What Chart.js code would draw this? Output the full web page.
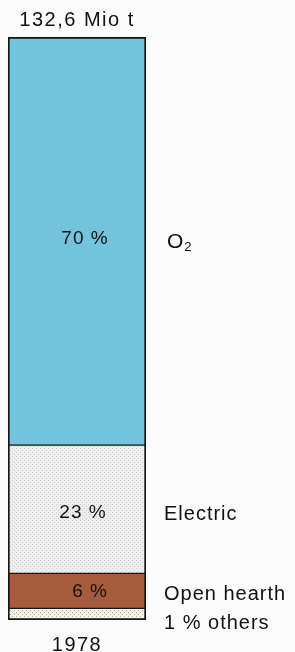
<!DOCTYPE html>
<html>
<head>
<meta charset="utf-8">
<script src="https://cdn.jsdelivr.net/npm/chart.js@4"></script>
<style>
  html, body { margin: 0; padding: 0; background: #fbfbfb; }
  canvas { display: block; }
</style>
</head>
<body>
<canvas id="c" width="295" height="652"></canvas>
<script>
// ---- data (top-to-bottom order as seen in the picture) ----
const categories = ['1978'];
const processNames = ['O2', 'Electric', 'Open hearth', 'others'];
const shares = [70, 22, 6, 2];          // band heights as drawn in the picture
const shareLabels = ['70 %', '23 %', '6 %', ''];
const sideLabels = ['O2', 'Electric', 'Open hearth', '1 % others'];
const totalLabel = '132,6 Mio t';

// ---- styling ----
function dotPattern(bg, dot) {
  const c = document.createElement('canvas');
  c.width = 4; c.height = 4;
  const x = c.getContext('2d');
  x.fillStyle = bg; x.fillRect(0, 0, 4, 4);
  x.fillStyle = dot;
  x.fillRect(0, 0, 1, 1); x.fillRect(2, 2, 1, 1);
  return x.createPattern(c, 'repeat');
}
const ctx0 = document.getElementById('c').getContext('2d');
const fills = [
  '#72c3dc',
  dotPattern('#eeeeee', '#c8c8c8'),
  '#a65b3d',
  dotPattern('#f3f1e8', '#b9b4a4')
];
const borders = [
  {top: 2, bottom: 1, left: 2, right: 2},
  {top: 1, bottom: 1, left: 2, right: 2},
  {top: 1, bottom: 1, left: 2, right: 2},
  {top: 1, bottom: 2, left: 2, right: 2}
];
const innerDx = [8, 6, 13, 0];
const innerDy = [-2, 4, 1, 0];
const sideX = [167, 164, 164, 164];
const sideDy = [1, 5, 4, 9];

const FONT = 'Liberation Sans, Arial, Helvetica, sans-serif';
const TEXT = '#111111';

// build datasets bottom-first for stacking
const datasets = processNames.map((name, i) => ({
  label: name,
  data: [shares[i]],
  backgroundColor: fills[i],
  borderColor: '#151515',
  borderWidth: borders[i],
  borderSkipped: false,
  barPercentage: 1,
  categoryPercentage: 1,
  _idx: i
})).reverse();

const labelPlugin = {
  id: 'labels',
  beforeDraw(chart) {
    chart.ctx.letterSpacing = '1.5px';
  },
  afterDatasetsDraw(chart) {
    const ctx = chart.ctx;
    ctx.save();
    ctx.fillStyle = TEXT;
    ctx.textBaseline = 'middle';
    chart.data.datasets.forEach((ds, di) => {
      const i = ds._idx;
      const el = chart.getDatasetMeta(di).data[0];
      const cy = (el.y + el.base) / 2;
      // inner share label
      if (shareLabels[i]) {
        ctx.font = '19px ' + FONT;
        ctx.letterSpacing = '1px';
        ctx.textAlign = 'center';
        ctx.fillText(shareLabels[i], el.x + innerDx[i], cy + innerDy[i]);
      }
      // side label
      ctx.textAlign = 'left';
      ctx.letterSpacing = '1px';
      const y = cy + sideDy[i];
      if (sideLabels[i] === 'O2') {
        ctx.font = '21px ' + FONT;
        ctx.fillText('O', sideX[i], y);
        const w = ctx.measureText('O').width;
        ctx.font = '13px ' + FONT;
        ctx.fillText('2', sideX[i] + w, y + 5);
      } else {
        ctx.font = '20px ' + FONT;
        ctx.fillText(sideLabels[i], sideX[i], y);
      }
    });
    ctx.restore();
    ctx.letterSpacing = '1.5px';
  }
};

new Chart(ctx0, {
  type: 'bar',
  data: { labels: categories, datasets },
  plugins: [labelPlugin],
  options: {
    responsive: false,
    animation: false,
    layout: { padding: { left: 8, right: 149, top: 0, bottom: 0 } },
    plugins: {
      legend: { display: false },
      tooltip: { enabled: false },
      title: {
        display: true,
        text: totalLabel,
        fullSize: false,
        color: TEXT,
        font: { family: FONT, size: 20, weight: 'normal', lineHeight: 1.2 },
        padding: { top: 8, bottom: 5 }
      }
    },
    scales: {
      x: {
        stacked: true,
        grid: { display: false },
        border: { display: false },
        ticks: { color: TEXT, font: { family: FONT, size: 20 }, padding: 5 },
        afterFit(scale) { scale.height = 32; }
      },
      y: {
        stacked: true,
        display: false,
        min: 0,
        max: 100
      }
    }
  }
});
</script>
</body>
</html>
